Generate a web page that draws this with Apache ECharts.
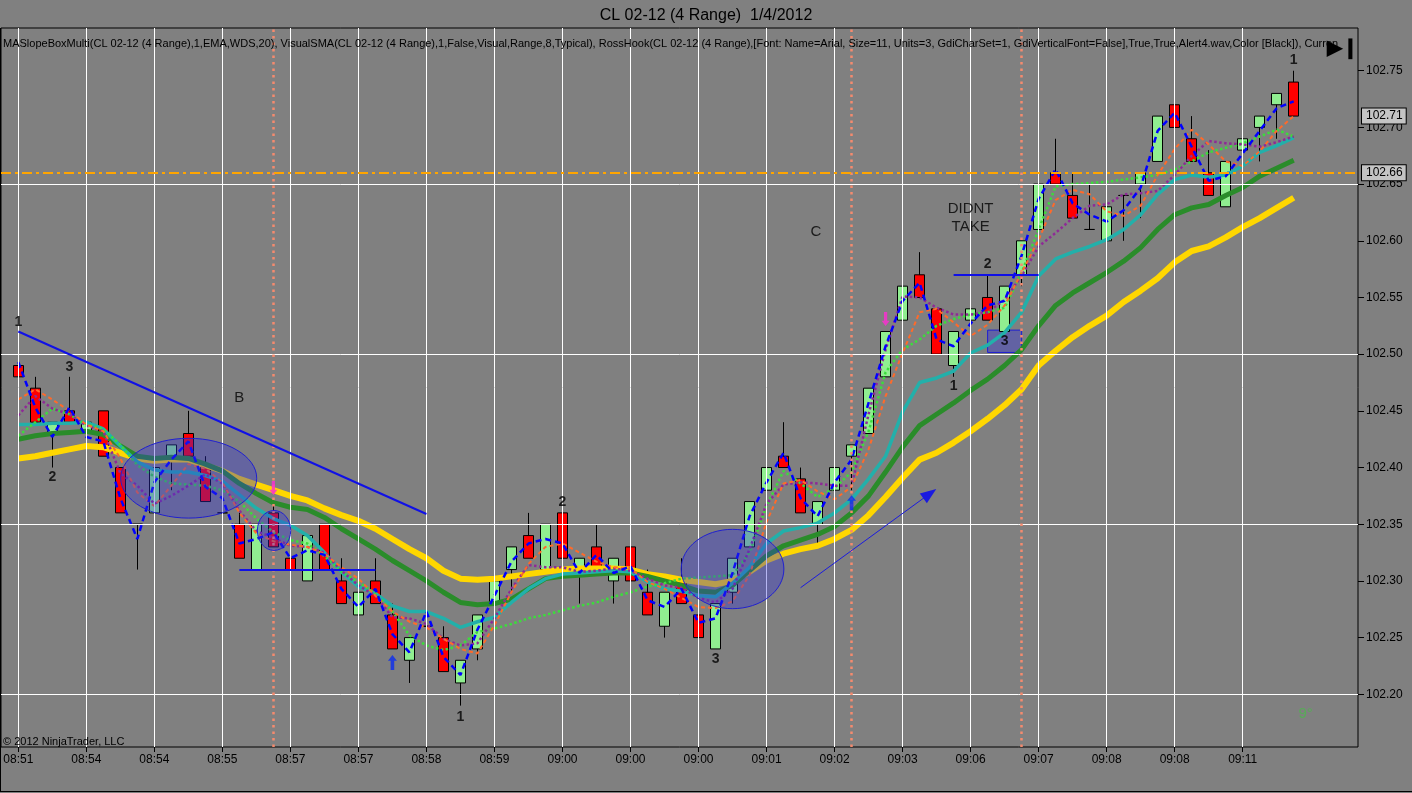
<!DOCTYPE html>
<html><head><meta charset="utf-8">
<script src="https://cdn.jsdelivr.net/npm/echarts@6/dist/echarts.min.js"></script>
<style>html,body{margin:0;padding:0;background:#808080}#c{width:1412px;height:793px}</style>
</head><body><div id="c"></div>
<script>
// ---------- data ----------
const timeLabels = ['08:51','08:54','08:54','08:55','08:57','08:57','08:58','08:59','09:00','09:00','09:00','09:01','09:02','09:03','09:06','09:07','09:08','09:08','09:11'];
const tickPos = [0,4,8,12,16,20,24,28,32,36,40,44,48,52,56,60,64,68,72];
const yTicks = [102.20,102.25,102.30,102.35,102.40,102.45,102.50,102.55,102.60,102.65,102.70,102.75];
const gridY = [102.20,102.35,102.50,102.65];

const open = [
102.49,102.47,102.43,102.45,102.43,102.45,102.40,102.35,102.36,102.41,
102.43,102.40,102.36,102.35,102.31,102.36,102.32,102.30,102.35,102.30,
102.27,102.30,102.27,102.23,102.26,102.25,102.21,102.24,102.28,102.31,
102.34,102.31,102.36,102.31,102.33,102.30,102.33,102.29,102.26,102.30,
102.27,102.24,102.29,102.33,102.38,102.41,102.39,102.35,102.38,102.41,
102.43,102.48,102.53,102.57,102.54,102.49,102.53,102.55,102.52,102.57,
102.61,102.66,102.64,102.61,102.60,102.64,102.65,102.67,102.72,102.69,
102.66,102.63,102.68,102.70,102.72,102.74];
const close = [
102.48,102.44,102.44,102.44,102.44,102.41,102.36,102.35,102.40,102.42,
102.41,102.37,102.36,102.32,102.35,102.33,102.31,102.34,102.31,102.28,
102.29,102.28,102.24,102.25,102.26,102.22,102.23,102.27,102.30,102.33,
102.32,102.35,102.32,102.32,102.31,102.32,102.30,102.27,102.29,102.28,
102.25,102.28,102.32,102.37,102.40,102.40,102.36,102.37,102.40,102.42,
102.47,102.52,102.56,102.55,102.50,102.52,102.54,102.53,102.56,102.60,
102.65,102.65,102.62,102.61,102.63,102.64,102.66,102.71,102.70,102.67,
102.64,102.67,102.69,102.71,102.73,102.71];
const low = [
102.48,102.44,102.40,102.44,102.40,102.41,102.36,102.31,102.36,102.38,
102.41,102.37,102.36,102.32,102.31,102.33,102.31,102.30,102.31,102.28,
102.25,102.28,102.24,102.21,102.26,102.22,102.19,102.23,102.26,102.29,
102.32,102.31,102.32,102.28,102.31,102.28,102.30,102.27,102.25,102.28,
102.25,102.24,102.28,102.33,102.36,102.40,102.36,102.33,102.36,102.38,
102.43,102.48,102.52,102.55,102.50,102.48,102.50,102.53,102.52,102.56,
102.61,102.65,102.62,102.61,102.59,102.60,102.62,102.67,102.70,102.67,
102.64,102.63,102.65,102.67,102.69,102.71];
const high = [
102.52,102.48,102.44,102.48,102.44,102.45,102.40,102.35,102.40,102.42,
102.45,102.41,102.40,102.36,102.35,102.37,102.34,102.34,102.35,102.32,
102.29,102.32,102.28,102.25,102.30,102.26,102.23,102.27,102.30,102.33,
102.36,102.35,102.36,102.32,102.35,102.32,102.34,102.31,102.29,102.32,
102.29,102.28,102.32,102.37,102.40,102.44,102.40,102.37,102.40,102.42,
102.47,102.52,102.56,102.59,102.54,102.52,102.54,102.57,102.56,102.60,
102.65,102.69,102.66,102.65,102.63,102.64,102.66,102.71,102.74,102.71,
102.68,102.67,102.69,102.71,102.73,102.75];

const typicalLine = [
102.493,102.453,102.427,102.453,102.427,102.423,102.373,102.337,102.387,102.407,
102.423,102.383,102.373,102.333,102.337,102.343,102.320,102.327,102.323,102.293,
102.277,102.293,102.253,102.237,102.273,102.233,102.217,102.257,102.287,102.317,
102.333,102.337,102.333,102.307,102.323,102.307,102.313,102.283,102.277,102.293,
102.263,102.267,102.307,102.357,102.387,102.413,102.373,102.357,102.387,102.407,
102.457,102.507,102.547,102.563,102.513,102.507,102.527,102.543,102.547,102.587,
102.637,102.663,102.633,102.623,102.617,102.627,102.647,102.697,102.713,102.683,
102.653,102.657,102.677,102.697,102.717,102.723];
const yellowLine = [
102.408,102.410,102.413,102.416,102.419,102.418,102.413,102.408,102.406,102.407,
102.407,102.402,102.397,102.390,102.385,102.380,102.375,102.371,102.364,102.358,
102.353,102.346,102.337,102.328,102.320,102.309,102.302,102.301,102.302,102.304,
102.306,102.308,102.310,102.311,102.311,102.311,102.310,102.306,102.304,102.301,
102.299,102.297,102.300,102.308,102.318,102.324,102.328,102.331,102.337,102.345,
102.358,102.374,102.391,102.407,102.413,102.422,102.432,102.443,102.455,102.469,
102.490,102.503,102.515,102.525,102.534,102.546,102.556,102.567,102.581,102.591,
102.595,102.603,102.612,102.620,102.629,102.638];
const greenLine = [
102.425,102.428,102.430,102.431,102.432,102.429,102.419,102.410,102.408,102.409,
102.408,102.403,102.397,102.386,102.377,102.369,102.365,102.363,102.356,102.346,
102.337,102.328,102.318,102.309,102.300,102.290,102.281,102.279,102.280,102.284,
102.293,102.302,102.304,102.305,102.306,102.307,102.307,102.304,102.300,102.296,
102.291,102.290,102.296,102.309,102.322,102.331,102.336,102.341,102.348,102.360,
102.375,102.396,102.418,102.437,102.447,102.457,102.468,102.478,102.490,102.504,
102.525,102.543,102.554,102.563,102.572,102.582,102.594,102.610,102.623,102.629,
102.632,102.640,102.647,102.657,102.664,102.671];
const cyanLine = [
102.438,102.438,102.439,102.439,102.440,102.434,102.419,102.405,102.398,102.396,
102.396,102.393,102.388,102.376,102.364,102.355,102.349,102.340,102.325,102.308,
102.295,102.289,102.278,102.273,102.273,102.267,102.259,102.264,102.268,102.281,
102.293,102.302,102.306,102.307,102.308,102.309,102.308,102.299,102.293,102.291,
102.287,102.286,102.298,102.312,102.333,102.344,102.347,102.351,102.360,102.372,
102.390,102.410,102.449,102.475,102.479,102.485,102.501,102.508,102.519,102.537,
102.569,102.584,102.590,102.595,102.601,102.610,102.623,102.641,102.654,102.658,
102.656,102.658,102.666,102.678,102.684,102.691];
const orangeLine = [
102.460,102.469,102.460,102.450,102.438,102.432,102.408,102.378,102.366,102.384,
102.403,102.399,102.387,102.360,102.342,102.335,102.332,102.330,102.324,102.312,
102.302,102.287,102.273,102.264,102.259,102.249,102.240,102.236,102.261,102.290,
102.315,102.330,102.333,102.325,102.317,102.312,102.311,102.299,102.293,102.285,
102.277,102.276,102.282,102.305,102.352,102.386,102.389,102.379,102.372,102.383,
102.416,102.463,102.501,102.537,102.540,102.528,102.516,102.526,102.543,102.572,
102.601,102.636,102.645,102.641,102.626,102.622,102.631,102.658,102.681,102.698,
102.685,102.670,102.666,102.679,102.697,102.710];
const purpleLine = [
102.446,102.463,102.452,102.447,102.437,102.432,102.395,102.384,102.368,102.375,
102.384,102.394,102.386,102.362,102.344,102.338,102.331,102.330,102.325,102.309,
102.296,102.287,102.268,102.267,102.262,102.249,102.243,102.245,102.267,102.293,
102.314,102.312,102.312,102.308,102.309,102.311,102.309,102.302,102.296,102.294,
102.285,102.281,102.293,102.328,102.368,102.385,102.387,102.386,102.384,102.384,
102.447,102.504,102.551,102.550,102.541,102.535,102.535,102.537,102.548,102.569,
102.595,102.607,102.620,102.631,102.632,102.641,102.642,102.644,102.658,102.675,
102.688,102.686,102.685,102.683,102.687,102.692];
const limeLine = [
102.428,102.440,102.452,102.447,102.438,102.434,102.420,102.402,102.392,102.386,
102.385,102.384,102.380,102.370,102.355,102.343,102.336,102.333,102.322,102.308,
102.299,102.289,102.273,102.252,102.243,102.239,102.243,102.255,102.258,102.262,
102.267,102.270,102.274,102.278,102.281,102.286,102.290,102.295,102.298,102.302,
102.303,102.304,102.305,102.325,102.366,102.397,102.386,102.374,102.382,102.396,
102.432,102.484,102.504,102.513,102.525,102.531,102.535,102.537,102.541,102.572,
102.610,102.648,102.650,102.651,102.652,102.654,102.656,102.658,102.663,102.670,
102.678,102.682,102.686,102.692,102.698,102.692];

// annotations (in bar-index / price units)
const sessionBars = [15, 49, 59];
const ellipses = [[10.02,102.3906,4.0,0.0352],[15.04,102.3445,0.98,0.0176],[42.0,102.3105,3.02,0.035]];
const trendLines = [[[0,102.52],[24,102.359]],[[13,102.31],[21,102.31]],[[55,102.57],[60,102.57]]];
const arrowLine = [[46,102.294],[53.6,102.377]];
const box3 = [[57,102.5212],[59,102.5015]];
const priceLevel = 102.66;
const lastPrice = 102.71;
const upArrows = [[22,102.228],[49,102.369]];
const downArrows = [[15,102.382],[51,102.531]];
const numText = ['1','2','3','1','2','3','2','1','3','1'];
const numX = [0,2,3,26,32,41,57,55,58,75];
const numY = [102.528,102.3918,102.4888,102.180,102.3692,102.231,102.5794,102.472,102.5115,102.7593];
const wordText = ['B','C','DIDNT\nTAKE'];
const wordX = [13,46.9,56.0];
const wordY = [102.4618,102.6076,102.620];

// ---------- chart ----------
const bars = open.map((o,i)=>i);
const ohlc = bars.map((x,i)=>[x, open[i], close[i], low[i], high[i]]);
const pair = arr => bars.map((x,i)=>[x, arr[i]]);
const FONT = 'Liberation Sans, Arial, sans-serif';

const lineSeries = (name, arr, color, width, type, z) => ({
  name, type:'line', data: pair(arr), showSymbol:false, symbol:'none', z,
  lineStyle:{color, width, type}, silent:true
});
const boxLabel = txt => ({show:true, position:'end', formatter:txt, distance:4, color:'#000', fontSize:12, fontFamily:FONT,
  backgroundColor:'#C4C4C4', borderColor:'#000', borderWidth:1, padding:[2,3,1,4]});

const chart = echarts.init(document.getElementById('c'));
chart.setOption({
  animation:false,
  backgroundColor:'#808080',
  textStyle:{fontFamily:FONT},
  title:[
    {text:'CL 02-12 (4 Range)  1/4/2012', left:'center', top:3, textStyle:{fontSize:16, fontWeight:'normal', color:'#000', fontFamily:FONT}},
    {text:'MASlopeBoxMulti(CL 02-12 (4 Range),1,EMA,WDS,20), VisualSMA(CL 02-12 (4 Range),1,False,Visual,Range,8,Typical), RossHook(CL 02-12 (4 Range),[Font: Name=Arial, Size=11, Units=3, GdiCharSet=1, GdiVerticalFont=False],True,True,Alert4.wav,Color [Black]), Curren',
     left:-2, top:33, textStyle:{fontSize:11, fontWeight:'normal', color:'#000', fontFamily:FONT}},
    {text:'© 2012 NinjaTrader, LLC', left:-2, top:731, textStyle:{fontSize:11, fontWeight:'normal', color:'#000', fontFamily:FONT}},
    {text:'▶❙', left:1322, top:33, textStyle:{fontSize:20, fontWeight:'bold', color:'#000'}}
  ],
  grid:{left:1, right:54, top:28, bottom:46, show:true, borderColor:'#000', borderWidth:1, backgroundColor:'transparent'},
  xAxis:{type:'value', min:-1.017, max:78.78,
    axisLine:{show:false, onZero:false},
    axisTick:{show:true, customValues:tickPos, length:5, lineStyle:{color:'#000'}},
    axisLabel:{customValues:tickPos, color:'#000', fontSize:12, margin:7, fontFamily:FONT,
      formatter:v=>{const k=tickPos.indexOf(v); return k>=0?timeLabels[k]:'';}},
    splitLine:{show:false}},
  yAxis:{type:'value', position:'right', min:102.1535, max:102.7877, scale:true,
    axisLine:{show:false, onZero:false},
    axisTick:{show:true, customValues:yTicks, length:6, lineStyle:{color:'#000'}},
    axisLabel:{customValues:yTicks, color:'#000', fontSize:12, margin:8, fontFamily:FONT, formatter:v=>v.toFixed(2)},
    splitLine:{show:false}},
  graphic:[
    {type:'line', shape:{x1:0.5,y1:28,x2:0.5,y2:792}, style:{stroke:'#000', lineWidth:1}},
    {type:'line', shape:{x1:0,y1:791.5,x2:1412,y2:791.5}, style:{stroke:'#000', lineWidth:1}}
  ],
  series:[
    {name:'grid', type:'line', data:[], z:1, silent:true,
     markLine:{silent:true, symbol:['none','none'], label:{show:false}, animation:false,
       lineStyle:{color:'#fff', width:1, type:'solid'},
       data:[...gridY.map(v=>({yAxis:v})), ...tickPos.map(v=>({xAxis:v}))]}},
    {name:'sessions', type:'line', data:[], z:1, silent:true,
     markLine:{silent:true, symbol:['none','none'], label:{show:false}, animation:false,
       lineStyle:{color:'#F58A6E', width:2.5, type:[2.5,4]},
       data:sessionBars.map(v=>({xAxis:v}))}},
    {name:'bars', type:'candlestick', data:ohlc, encode:{x:0, y:[1,2,3,4]}, barWidth:10, z:2, silent:true,
     itemStyle:{color:'#90EE90', color0:'#FF0000', borderColor:'#000', borderColor0:'#000', borderWidth:1}},
    lineSeries('yellow', yellowLine, '#FFD700', 6, 'solid', 3),
    lineSeries('green', greenLine, '#2A8C2A', 5, 'solid', 3),
    lineSeries('cyan', cyanLine, '#22B0AA', 3.5, 'solid', 3),
    lineSeries('lime', limeLine, '#3CDC3C', 2.5, 'dotted', 3),
    lineSeries('purple', purpleLine, '#8E2A96', 2.5, 'dotted', 3),
    lineSeries('orange', orangeLine, '#FF6A2A', 2, [4,3], 3),
    lineSeries('typical', typicalLine, '#0000FF', 2.5, [6,4], 4),
    {name:'annotations', type:'line', data:[], z:5, silent:true,
     markLine:{silent:true, symbol:['none','none'], animation:false,
       label:{show:false},
       data:[
         ...trendLines.map(t=>[{coord:t[0], lineStyle:{color:'#1010E6', width:2, type:'solid'}},{coord:t[1]}]),
         [{coord:arrowLine[0], lineStyle:{color:'#1A1AE0', width:1, type:'solid'}, symbol:'none'},{coord:arrowLine[1], symbol:'triangle', symbolSize:[12,16]}],
         {yAxis:priceLevel, lineStyle:{color:'#FFA500', width:2, type:[10,4,3,4]}, label:boxLabel(priceLevel.toFixed(2))},
         {yAxis:lastPrice, lineStyle:{color:'rgba(0,0,0,0)', width:1}, label:boxLabel(lastPrice.toFixed(2))}
       ]},
     markArea:{silent:true, itemStyle:{color:'rgba(50,50,220,0.38)', borderColor:'#1E1ED2', borderWidth:1},
       data:[[{coord:box3[0]},{coord:box3[1]}]]}},
    {name:'ellipses', type:'custom', data:ellipses, encode:{x:0, y:1}, z:6, silent:true,
     renderItem:(params, api)=>{
       const c = api.coord([api.value(0), api.value(1)]);
       const e = api.coord([api.value(0)+api.value(2), api.value(1)+api.value(3)]);
       return {type:'ellipse', shape:{cx:c[0], cy:c[1], rx:Math.abs(e[0]-c[0]), ry:Math.abs(e[1]-c[1])},
               style:{fill:'rgba(50,50,220,0.35)', stroke:'#2020D0', lineWidth:1}};
     }},
    {name:'upArrows', type:'scatter', data:upArrows, z:7, silent:true,
     symbol:'path://M5,0 L10,6 L7,6 L7,16 L3,16 L3,6 L0,6 Z', symbolSize:[9,15], itemStyle:{color:'#0A2CF0'}},
    {name:'downArrows', type:'scatter', data:downArrows, z:7, silent:true,
     symbol:'path://M5,0 L10,6 L7,6 L7,16 L3,16 L3,6 L0,6 Z', symbolRotate:180, symbolSize:[8,14], itemStyle:{color:'#FF2AD4'}},
    {name:'numbers', type:'scatter', z:8, silent:true, symbolSize:1, itemStyle:{color:'rgba(0,0,0,0)'},
     data:numText.map((t,i)=>({value:[numX[i], numY[i]], label:{formatter:t}})),
     label:{show:true, position:'inside', color:'#000', fontSize:14, fontWeight:'bold', fontFamily:FONT}},
    {name:'words', type:'scatter', z:8, silent:true, symbolSize:1, itemStyle:{color:'rgba(0,0,0,0)'},
     data:wordText.map((t,i)=>({value:[wordX[i], wordY[i]], label:{formatter:t}})),
     label:{show:true, position:'inside', color:'#000', fontSize:15, lineHeight:18, fontFamily:FONT}},
    {name:'mark', type:'scatter', z:8, silent:true, symbolSize:1, itemStyle:{color:'rgba(0,0,0,0)'},
     data:[{value:[75.7,102.1825], label:{formatter:'9°'}}],
     label:{show:true, position:'inside', color:'rgba(60,200,60,0.75)', fontSize:15, fontFamily:FONT}}
  ]
});
</script></body></html>
